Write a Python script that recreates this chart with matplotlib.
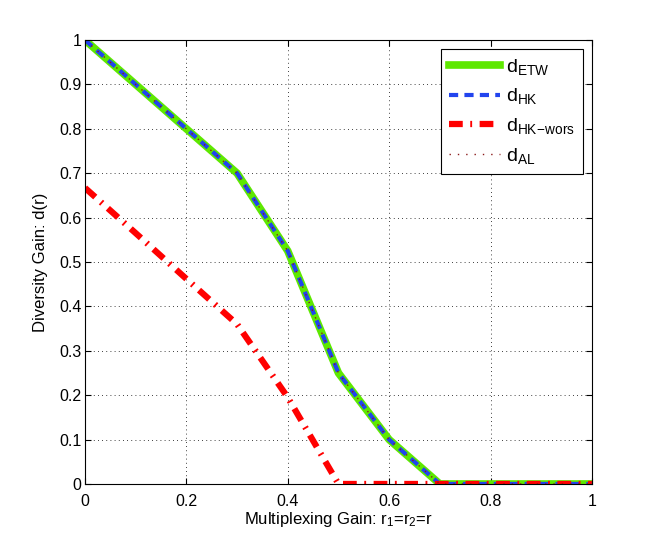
import matplotlib
matplotlib.use('Agg')
import matplotlib.pyplot as plt

plt.rcParams['font.family'] = ['Liberation Sans', 'DejaVu Sans']
plt.rcParams['mathtext.fontset'] = 'custom'
plt.rcParams['mathtext.rm'] = 'Liberation Sans'
plt.rcParams['mathtext.it'] = 'Liberation Sans'

# multiplexing gain r
r = [0.0, 0.1, 0.2, 0.3, 0.4, 0.5, 0.6, 0.7, 0.8, 0.9, 1.0]
# diversity gains
d_etw = [1.0, 0.9, 0.8, 0.7, 0.525, 0.25, 0.1, 0.0, 0.0, 0.0, 0.0]
d_hk = [1.0, 0.9, 0.8, 0.7, 0.525, 0.25, 0.1, 0.0, 0.0, 0.0, 0.0]
d_hk_wors = [0.667, 0.565, 0.462, 0.36, 0.195, 0.0, 0.0, 0.0, 0.0, 0.0, 0.0]
d_al = [1.0, 0.9, 0.8, 0.7, 0.525, 0.25, 0.1, 0.0, 0.0, 0.0, 0.0]

xticks = [0, 0.2, 0.4, 0.6, 0.8, 1]
yticks = [0, 0.1, 0.2, 0.3, 0.4, 0.5, 0.6, 0.7, 0.8, 0.9, 1]

fig = plt.figure(figsize=(6.54, 5.46), dpi=100)
ax = fig.add_axes([0.13, 0.1136, 0.775, 0.813])

ax.plot(r, d_etw, color='#5ee800', lw=5.5, ls='-', label=r'd$_{\mathregular{ETW}}$')
ax.plot(r, d_hk, color='#2244ee', lw=3, ls=(0, (2.2, 1.5)), label=r'd$_{\mathregular{HK}}$')
ax.plot(r, d_hk_wors, color='#ff0000', lw=4.5, ls=(0, (2.2, 1.2, 0.3, 1.2)), label=r'd$_{\mathregular{HK\!-\!wors}}$')
ax.plot(r, d_al, color='#8b1a1a', lw=1, ls=(0, (1, 5)), label=r'd$_{\mathregular{AL}}$')

ax.set_xlim(0, 1)
ax.set_ylim(0, 1)
ax.set_xticks(xticks)
ax.set_yticks(yticks)
ax.set_xticklabels([f'{t:g}' for t in xticks])
ax.set_yticklabels([f'{t:g}' for t in yticks])
ax.tick_params(direction='in', top=True, right=True, labelsize=11.5, length=4)
ax.tick_params(axis='x', pad=7)
ax.tick_params(axis='y', pad=2.5)
ax.grid(True, color='black', ls=(0, (1, 4)), lw=0.6)

ax.set_xlabel(r'Multiplexing Gain: r$_\mathregular{1}$=r$_\mathregular{2}$=r', fontsize=12, labelpad=1)
ax.set_ylabel('Diversity Gain: d(r)', fontsize=12, labelpad=8)

leg = ax.legend(loc='upper right', fontsize=14, fancybox=False, edgecolor='black',
                framealpha=1, handlelength=2.6, handletextpad=0.35,
                borderaxespad=0.45, labelspacing=0.5)
leg.get_frame().set_linewidth(0.8)

fig.savefig('out.png', dpi=100)
